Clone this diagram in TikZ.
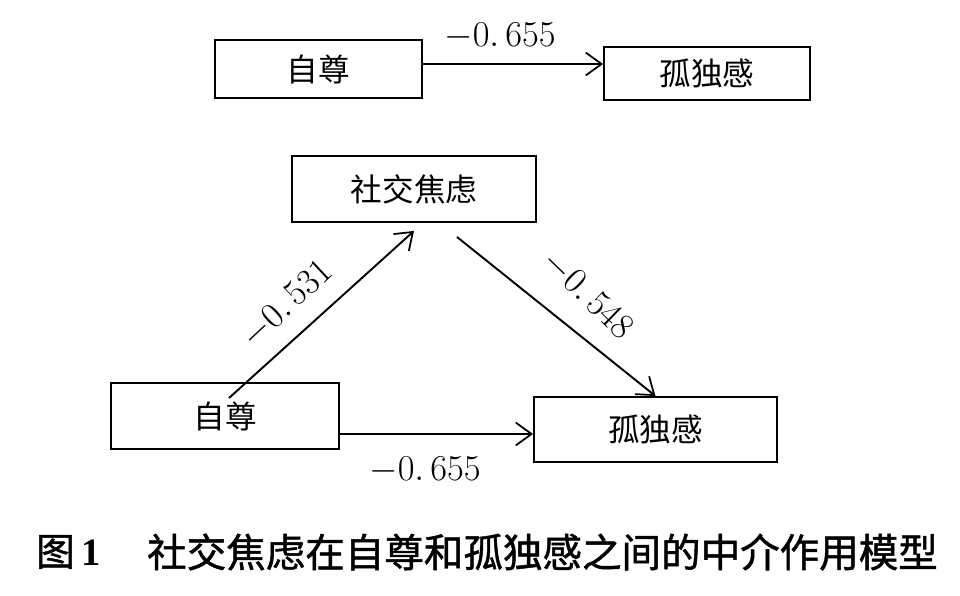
\documentclass[tikz,border=0pt]{standalone}
\usepackage{fontspec}
\newfontfamily\cjk{Noto Sans CJK SC}
\newfontfamily\cjkcap[FakeBold=1.2]{Noto Sans CJK SC}
\newfontfamily\serif{Liberation Serif}
\usetikzlibrary{arrows.meta}

\begin{document}
\begin{tikzpicture}[x=0.02cm, y=-0.02cm,
        box/.style={draw, line width=1.1pt, inner sep=0pt, font=\cjk\fontsize{18}{20}\selectfont},
        arr/.style={-{Straight Barb[length=9pt,width=13pt,line width=1pt]}, line width=1.1pt},
        coef/.style={font=\fontsize{21}{24}\selectfont}]
        \useasboundingbox (0,0) rectangle (960,595);
        % total effect
        \node (zz1) [box, minimum width=4.14cm, minimum height=1.16cm] at (318.5,69) {自尊};
        \node (gd1) [box, minimum width=4.12cm, minimum height=1.06cm] at (707,73.5) {孤独感};
        \coordinate (p1) at ([yshift=0.1cm]zz1.east);
        \draw [arr] (p1) -- (p1 -| gd1.west);
        \node (c1) [coef] at (500,36) {$-0.\,655$};
        % mediation model
        \node (sj) [box, minimum width=4.88cm, minimum height=1.32cm] at (414,189) {社交焦虑};
        \node (zz2) [box, minimum width=4.56cm, minimum height=1.32cm] at (225,416) {自尊};
        \node (gd2) [box, minimum width=4.86cm, minimum height=1.3cm] at (655.5,429.5) {孤独感};
        \coordinate (a) at (229,398);
        \coordinate (b) at (457,237);
        \draw [arr] (a) -- ([yshift=-0.16cm]sj.south);
        \draw [arr] (b) -- (gd2.north);
        \coordinate (p3) at ([yshift=-0.36cm]zz2.east);
        \draw [arr] (p3) -- (p3 -| gd2.west);
        \node (c2) [coef, rotate=43] at (287,304) {$-0.\,531$};
        \node (c3) [coef, rotate=-44] at (588,295) {$-0.\,548$};
        \node (c4) [coef] at (425,470) {$-0.\,655$};
        % caption
        \node (fig) [anchor=west] at (30,552) {\cjkcap\fontsize{22}{26}\selectfont 图\,\serif\bfseries 1};
        \node (cap) [font=\cjkcap\fontsize{22.5}{26}\selectfont, anchor=west] at (141,552) {社交焦虑在自尊和孤独感之间的中介作用模型};
\end{tikzpicture}
\end{document}
